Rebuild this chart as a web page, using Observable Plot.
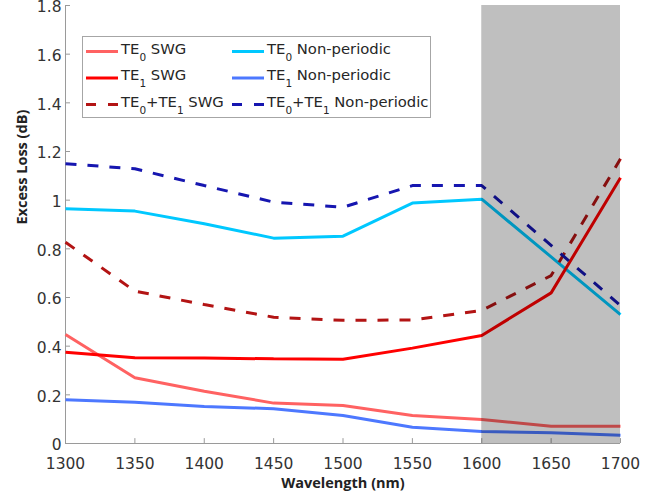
<!DOCTYPE html>
<html><head><meta charset="utf-8">
<script src="https://cdn.jsdelivr.net/npm/d3@7"></script>
<script src="https://cdn.jsdelivr.net/npm/@observablehq/plot@0.6"></script>
<style>
body{margin:0;background:#fff;}
#chart{position:relative;width:671px;height:496px;}
#legend{position:absolute;left:0;top:0;pointer-events:none;}
</style></head><body><div id="chart"></div>
<script>
// ---- data ----
const wavelength = [1300, 1350, 1400, 1450, 1500, 1550, 1600, 1650, 1700];
const te0SWG   = [0.448, 0.270, 0.215, 0.166, 0.156, 0.115, 0.099, 0.071, 0.071];
const te1SWG   = [0.375, 0.352, 0.351, 0.348, 0.346, 0.392, 0.444, 0.619, 1.092];
const sumSWG   = [0.827, 0.626, 0.571, 0.519, 0.506, 0.508, 0.547, 0.690, 1.170];
const te0NP    = [0.965, 0.955, 0.903, 0.844, 0.852, 0.988, 1.004, 0.767, 0.530];
const te1NP    = [0.180, 0.170, 0.152, 0.143, 0.115, 0.067, 0.049, 0.044, 0.034];
const sumNP    = [1.150, 1.129, 1.060, 0.992, 0.971, 1.060, 1.060, 0.814, 0.567];

const seriesValues = [te0SWG, te0NP, te1SWG, te1NP, sumSWG, sumNP];
const seriesNames  = ["TE_0 SWG", "TE_0 Non-periodic", "TE_1 SWG", "TE_1 Non-periodic", "TE_0+TE_1 SWG", "TE_0+TE_1 Non-periodic"];
const seriesColors = ["#ff6262", "#00c8ff", "#ff0000", "#4d78ff", "#b31414", "#1616b0"];
const seriesDashes = [null, null, null, null, "11,11", "11,11"];

const xTicks = [1300, 1350, 1400, 1450, 1500, 1550, 1600, 1650, 1700];
const yTicks = [0, 0.2, 0.4, 0.6, 0.8, 1, 1.2, 1.4, 1.6, 1.8];
const shadedBand = [1600, 1700];
const xTitle = "Wavelength (nm)";
const yTitle = "Excess Loss (dB)";

// ---- chart ----
const rows = seriesValues.flatMap((vals, i) => vals.map((v, j) => ({x: wavelength[j], y: v, s: seriesNames[i]})));
const axisColor = "#9a9a9a";
const fmt = d => String(+d.toFixed(1));

const lineMarks = seriesNames.map((name, i) =>
  Plot.line(rows.filter(r => r.s === name), {
    x: "x", y: "y", stroke: seriesColors[i], strokeWidth: 3,
    strokeDasharray: seriesDashes[i] || undefined, strokeLinejoin: "miter", strokeLinecap: "butt"
  })
);

const plot = Plot.plot({
  width: 671, height: 496,
  marginLeft: 65, marginRight: 51, marginTop: 5, marginBottom: 53,
  x: {domain: [1300, 1700]},
  y: {domain: [0, 1.8]},
  style: {fontFamily: "DejaVu Sans", fontSize: "15.5px", color: "#333", background: "white", overflow: "visible"},
  marks: [
    Plot.ruleY([0], {stroke: axisColor}),
    Plot.ruleX([1300], {stroke: axisColor}),
    Plot.ruleX(xTicks, {x: d => d, y1: 0, y2: 0.02, stroke: axisColor}),
    Plot.ruleY(yTicks, {y: d => d, x1: 1300, x2: 1303.6, stroke: axisColor}),
    Plot.axisX({ticks: xTicks, tickSize: 0, tickPadding: 14, label: null, tickFormat: fmt}),
    Plot.axisY({ticks: yTicks, tickSize: 0, tickPadding: 4, dy: 2, label: null, tickFormat: fmt}),
    ...lineMarks,
    Plot.rect([shadedBand], {x1: d => d[0], x2: d => d[1], y1: 0, y2: 1.8, fill: "black", fillOpacity: 0.25}),
    Plot.text([xTitle], {frameAnchor: "bottom", dy: 44, fontFamily: "Open Sans", fontWeight: 700, fontSize: 14.5, fill: "#222"}),
    Plot.text([yTitle], {frameAnchor: "left", dx: -43, rotate: -90, fontFamily: "Open Sans", fontWeight: 700, fontSize: 14.5, fill: "#222"})
  ]
});
const chart = document.getElementById("chart");
chart.appendChild(plot);

// ---- legend overlay ----
const svg = d3.select(chart).append("svg").attr("id", "legend").attr("width", 671).attr("height", 496);
svg.append("rect").attr("x", 82.5).attr("y", 36.5).attr("width", 348).attr("height", 81)
  .attr("fill", "white").attr("stroke", "#a6a6a6").attr("stroke-width", 1);
const colX = [86, 232];
const rowY = [51.5, 78, 104.5];
seriesNames.forEach((name, i) => {
  const c = i % 2, r = Math.floor(i / 2);
  const x0 = colX[c], y0 = rowY[r];
  svg.append("line").attr("x1", x0).attr("x2", x0 + 32).attr("y1", y0).attr("y2", y0)
    .attr("stroke", seriesColors[i]).attr("stroke-width", 3)
    .attr("stroke-dasharray", seriesDashes[i] ? "10,12" : null);
  const t = svg.append("text").attr("x", x0 + 35).attr("y", y0 + 2.3)
    .attr("font-family", "DejaVu Sans").attr("font-size", 14.8).attr("fill", "#262626");
  const parts = name.split(/_(\d)/);
  let lowered = false;
  parts.forEach((p, k) => {
    if (k % 2 === 1) {
      t.append("tspan").attr("font-size", 10.5).attr("dy", 7).text(p);
      lowered = true;
    } else if (p) {
      const s = t.append("tspan").text(p);
      if (lowered) { s.attr("dy", -7); lowered = false; }
    }
  });
});
</script></body></html>
